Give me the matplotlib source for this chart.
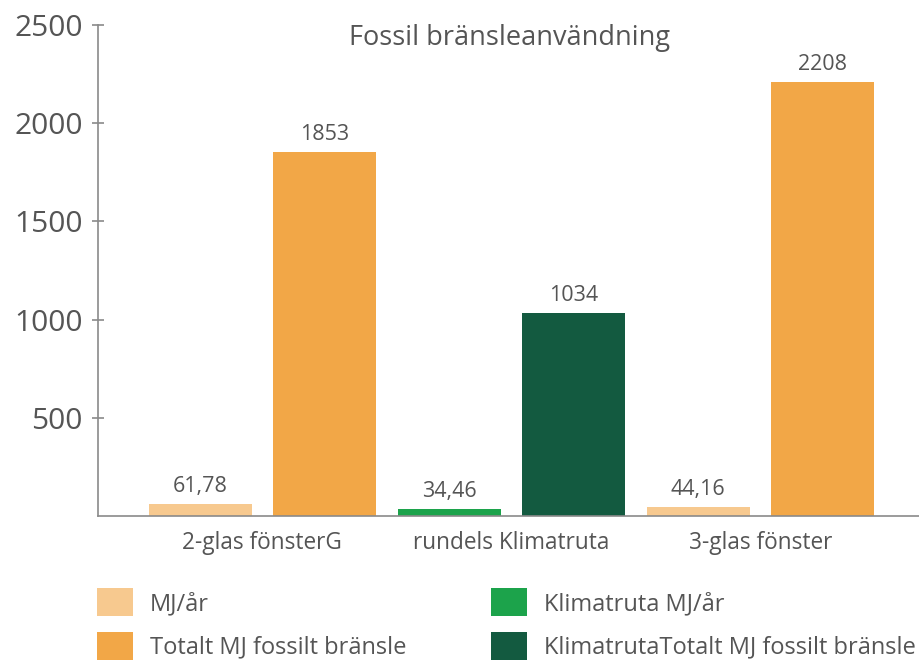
import matplotlib
matplotlib.use("Agg")
import matplotlib.pyplot as plt
import numpy as np
from matplotlib.patches import Patch

plt.rcParams['font.family'] = ['Open Sans', 'DejaVu Sans']

# data
categories = ["2-glas fönsterG", "rundels Klimatruta", "3-glas fönster"]
mj_ar = [61.78, np.nan, 44.16]
totalt_mj = [1853, np.nan, 2208]
klimat_mj_ar = [np.nan, 34.46, np.nan]
klimat_totalt_mj = [np.nan, 1034, np.nan]
yticks = [500, 1000, 1500, 2000, 2500]

series = [
    ("MJ/år", mj_ar, "#F7C98F", -0.25),
    ("Totalt MJ fossilt bränsle", totalt_mj, "#F2A747", 0.25),
    ("Klimatruta MJ/år", klimat_mj_ar, "#1CA34B", -0.25),
    ("KlimatrutaTotalt MJ fossilt bränsle", klimat_totalt_mj, "#135A40", 0.25),
]

text_col = "#555555"

fig = plt.figure(figsize=(9.2, 6.68), dpi=100)
ax = fig.add_axes([98 / 920, 1 - 516 / 668, 1 - 98 / 920, (516 - 25) / 668])

x = np.arange(len(categories))
width = 0.414


def fmt(v):
    if float(v).is_integer():
        return str(int(v))
    return f"{v:.2f}".replace(".", ",")


handles = []
for label, vals, col, off in series:
    vals = np.array(vals, dtype=float)
    ok = ~np.isnan(vals)
    bars = ax.bar(x[ok] + off, vals[ok], width, color=col)
    for b, v in zip(bars, vals[ok]):
        ax.annotate(fmt(v), (b.get_x() + b.get_width() / 2, b.get_height()),
                    xytext=(0, 5), textcoords="offset points",
                    ha="center", va="bottom", fontsize=15.5, color=text_col)
    handles.append(Patch(facecolor=col, label=label))

ax.set_xlim(-0.66, 2.64)
ax.set_ylim(0, 2500)
ax.set_yticks(yticks)
ax.set_xticks(x)
ax.set_xticklabels(categories)

for s in ["top", "right"]:
    ax.spines[s].set_visible(False)
ax.spines["left"].set_color("#8a8a8a")
ax.spines["bottom"].set_color("#8a8a8a")
ax.spines["left"].set_linewidth(1.2)
ax.spines["bottom"].set_linewidth(1.2)

ax.tick_params(axis="y", direction="inout", length=8, width=1.2, color="#8a8a8a",
               labelsize=21.5, labelcolor=text_col, pad=7)
ax.tick_params(axis="x", length=0, labelsize=16.3, labelcolor=text_col, pad=11)

fig.text(510 / 920, 1 - 38 / 668, "Fossil bränsleanvändning", ha="center", va="center",
         fontsize=19.5, color=text_col)

fig.legend(handles=handles, ncol=2, loc="upper left",
           bbox_to_anchor=(97 / 920, 1 - 588 / 668), frameon=False,
           fontsize=17, labelcolor=text_col, handlelength=1.52, handleheight=1.48,
           handletextpad=0.72, columnspacing=3.6, labelspacing=0.64,
           borderaxespad=0, borderpad=0)

fig.savefig("out.png", dpi=100)
